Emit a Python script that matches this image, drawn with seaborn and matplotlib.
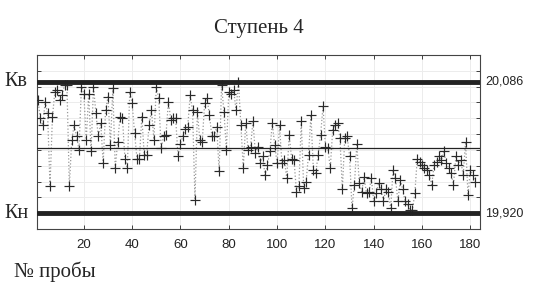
import numpy as np
import pandas as pd
import matplotlib
matplotlib.use("Agg")
import matplotlib.pyplot as plt
import matplotlib.transforms as mtransforms
import seaborn as sns

# values, samples 1..N
vals_1 = [20.063, 20.040, 20.031, 20.061, 20.046, 19.954, 20.042, 20.073, 20.076, 20.063,
          20.069, 20.082, 20.082, 19.954, 20.013, 20.031, 20.017, 20.000, 20.080, 20.071,
          20.013, 20.071, 19.998, 20.080, 20.046, 20.017, 20.034, 19.983, 20.050, 20.067,
          20.006, 20.078]
vals_2 = [19.977, 20.010, 20.042, 20.040, 19.989, 19.977, 20.073, 20.059, 20.021, 19.989,
          19.989, 20.042, 19.994, 19.994, 20.031, 20.050, 20.013, 20.080, 20.065, 20.002,
          20.017, 20.019, 20.061, 20.038, 20.040, 20.040, 19.992, 20.008, 20.017, 20.027]
vals_3 = [20.029, 20.069, 20.050, 19.937, 20.048, 20.013, 20.010, 20.059, 20.065, 20.044,
          20.017, 20.017, 20.029, 19.973, 20.082, 20.048, 20.000, 20.073, 20.071, 20.076,
          20.050, 20.086, 20.031, 19.977, 20.034, 20.000, 20.004, 20.036, 19.996, 20.004]
vals_4 = [19.983, 19.992, 19.968, 19.981, 19.998, 20.034, 20.006, 19.983, 20.031, 19.983,
          19.987, 19.964, 20.019, 19.989, 19.987, 19.947, 19.954, 20.036, 19.952, 19.960,
          19.994, 20.044, 19.975, 19.971, 19.994, 20.019, 20.055, 20.004, 20.002, 19.977]
vals_5 = [20.025, 20.031, 20.034, 20.015, 19.950, 20.015, 20.017, 19.992, 19.926, 19.956,
          20.008, 19.958, 19.947, 19.966, 19.945, 19.947, 19.964, 19.935, 19.945, 19.958,
          19.950, 19.935, 19.950, 19.947, 19.926, 19.975, 19.964, 19.935, 19.962, 19.950]
vals_6 = [19.935, 19.931, 19.924, 19.924, 19.945, 19.989, 19.985, 19.981, 19.977, 19.975,
          19.968, 19.956, 19.981, 19.985, 19.992, 19.987, 19.998, 19.983, 19.977, 19.971,
          19.956, 19.992, 19.981, 19.987, 19.968, 20.010, 19.943, 19.975, 19.968, 19.960]

upper = 20.086
lower = 19.920
center = 20.003
x_ticks = [20, 40, 60, 80, 100, 120, 140, 160, 180]

values = vals_1 + vals_2 + vals_3 + vals_4 + vals_5 + vals_6
df = pd.DataFrame({"n": np.arange(1, len(values) + 1), "v": values})

sns.set_style("white")
fig = plt.figure(figsize=(5.4, 2.97), dpi=100)
ax = fig.add_axes([0.068, 0.229, 0.821, 0.586])

sns.lineplot(data=df, x="n", y="v", ax=ax, color="#999999", linestyle=":", linewidth=0.9)
sns.scatterplot(data=df, x="n", y="v", ax=ax, marker="+", s=42, color="#2a2a2a",
                linewidth=0.85, zorder=3)

ax.axhline(upper, color="#222222", linewidth=3.5, zorder=4)
ax.axhline(lower, color="#222222", linewidth=3.5, zorder=4)
ax.axhline(center, color="#222222", linewidth=0.9, zorder=4)

ax.set_xlim(0.5, 184)
ax.set_ylim(19.900, 20.120)
ax.set_xticks(x_ticks)
ax.set_yticks(np.arange(19.90, 20.121, 0.02))
ax.set_yticklabels([])
ax.grid(True, color="#ececec", linewidth=0.7)
ax.tick_params(axis="both", direction="in", top=True, right=True, left=True, bottom=True,
               length=3, width=0.6, labelsize=9.5, colors="#222222")
ax.tick_params(axis="x", pad=7)
for lab in ax.get_xticklabels():
    lab.set_family("Liberation Sans")
for s in ax.spines.values():
    s.set_color("#444444")
    s.set_linewidth(0.8)
ax.set_xlabel("")
ax.set_ylabel("")

serif = ["Liberation Serif", "DejaVu Serif"]
trans_l = mtransforms.blended_transform_factory(fig.transFigure, ax.transData)
ax.text(0.008, upper, "Кв", transform=trans_l, ha="left", va="center", fontsize=14.5, family=serif)
ax.text(0.008, lower, "Кн", transform=trans_l, ha="left", va="center", fontsize=14.5, family=serif)
trans_r = mtransforms.blended_transform_factory(ax.transAxes, ax.transData)
ax.text(1.012, upper, "20,086", transform=trans_r, ha="left", va="center", fontsize=9,
        family="Liberation Sans", color="#222222")
ax.text(1.012, lower, "19,920", transform=trans_r, ha="left", va="center", fontsize=9,
        family="Liberation Sans", color="#222222")

fig.text(0.48, 0.905, "Ступень 4", ha="center", va="center", fontsize=15, family=serif)
fig.text(0.026, 0.085, "№ пробы", ha="left", va="center", fontsize=15, family=serif)

fig.savefig("out.png", dpi=100)
